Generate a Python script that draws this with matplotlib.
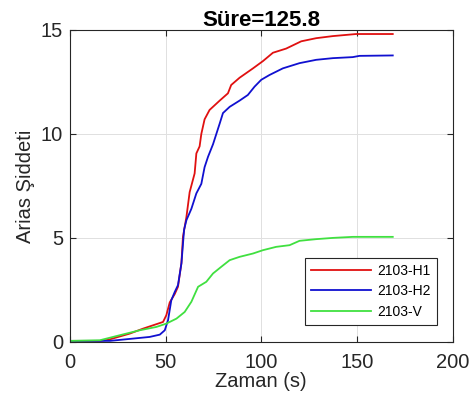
import numpy as np
import matplotlib
matplotlib.use("Agg")
import matplotlib.pyplot as plt

plt.rcParams['font.family'] = ['Liberation Sans', 'DejaVu Sans']

# values
t_h1 = [0, 15.7, 20, 31.3, 38.3, 48.7, 50.4, 52.2, 54.8, 56.5, 58.3, 59.1, 60.9, 62.6, 65.2,
        66.1, 67.8, 68.7, 70.4, 73, 78.3, 82.6, 84.3, 88.7, 95.7, 100.9, 106.1, 113, 120.9,
        128.7, 137.4, 149.6, 168.7]
h1 = [0.05, 0.05, 0.1, 0.4, 0.64, 0.96, 1.28, 1.9, 2.3, 2.65, 3.8, 5.05, 6.0, 7.2, 8.1,
      9.06, 9.4, 10.0, 10.7, 11.15, 11.6, 11.95, 12.35, 12.7, 13.15, 13.5, 13.9, 14.1, 14.45,
      14.6, 14.7, 14.8, 14.8]

t_h2 = [0, 20.9, 33, 41.7, 47, 49.6, 51.3, 53, 54.8, 56.5, 58.3, 59.7, 60.9, 63.5, 66.1,
        68.7, 70.4, 72.2, 74.8, 78.3, 80, 83.5, 88.7, 93, 96.5, 100, 104.3, 111.3, 120,
        128.7, 137.4, 147.8, 151.3, 168.7]
h2 = [0.05, 0.05, 0.16, 0.24, 0.35, 0.56, 1.04, 2.0, 2.4, 2.73, 3.77, 5.4, 5.85, 6.4, 7.14,
      7.6, 8.4, 8.9, 9.5, 10.5, 11.0, 11.3, 11.6, 11.87, 12.27, 12.6, 12.83, 13.15, 13.4,
      13.56, 13.64, 13.69, 13.75, 13.77]

t_v = [0, 15.7, 26, 36.5, 45.2, 50.4, 55.7, 60, 63.5, 67, 71.3, 74.8, 79.1, 83.5, 88.7,
       95.7, 100.9, 107.8, 114.8, 120, 128.7, 137.4, 147.8, 168.7]
v = [0.05, 0.08, 0.32, 0.56, 0.72, 0.88, 1.12, 1.44, 1.93, 2.65, 2.89, 3.29, 3.61, 3.93, 4.09,
     4.25, 4.41, 4.57, 4.65, 4.86, 4.94, 5.0, 5.05, 5.05]

fig = plt.figure(figsize=(4.75, 4.09), dpi=100)
ax = fig.add_axes([0.147, 0.164, 0.806, 0.763])

ax.plot(t_h1, h1, color='#e01010', lw=1.3, label='2103-H1')
ax.plot(t_h2, h2, color='#1010d0', lw=1.3, label='2103-H2')
ax.plot(t_v, v, color='#40e040', lw=1.3, label='2103-V')

ax.set_xlim(0, 200)
ax.set_ylim(0, 15)
ax.set_xticks([0, 50, 100, 150, 200])
ax.set_yticks([0, 5, 10, 15])
ax.grid(True, color='#e0e0e0', lw=0.7)
ax.tick_params(direction='in', top=True, right=True, labelsize=14.5, length=4, colors='#262626',
               pad=5)
ax.tick_params(axis='x', pad=8)
for s in ax.spines.values():
    s.set_color('#262626')
    s.set_linewidth(0.8)

ax.set_xlabel('Zaman (s)', fontsize=14.5, color='#262626', labelpad=0)
ax.set_ylabel('Arias Şiddeti', fontsize=14.5, color='#262626', labelpad=4)
ax.set_title('Süre=125.8', fontsize=16, fontweight='bold', pad=3)

leg = ax.legend(loc='lower right', bbox_to_anchor=(0.96, 0.055), fontsize=10, fancybox=False,
                framealpha=1, edgecolor='#262626', handlelength=4.3, handletextpad=0.5,
                borderpad=0.45, borderaxespad=0, labelspacing=0.45)
leg.get_frame().set_linewidth(0.8)

fig.savefig('out.png', dpi=100)
